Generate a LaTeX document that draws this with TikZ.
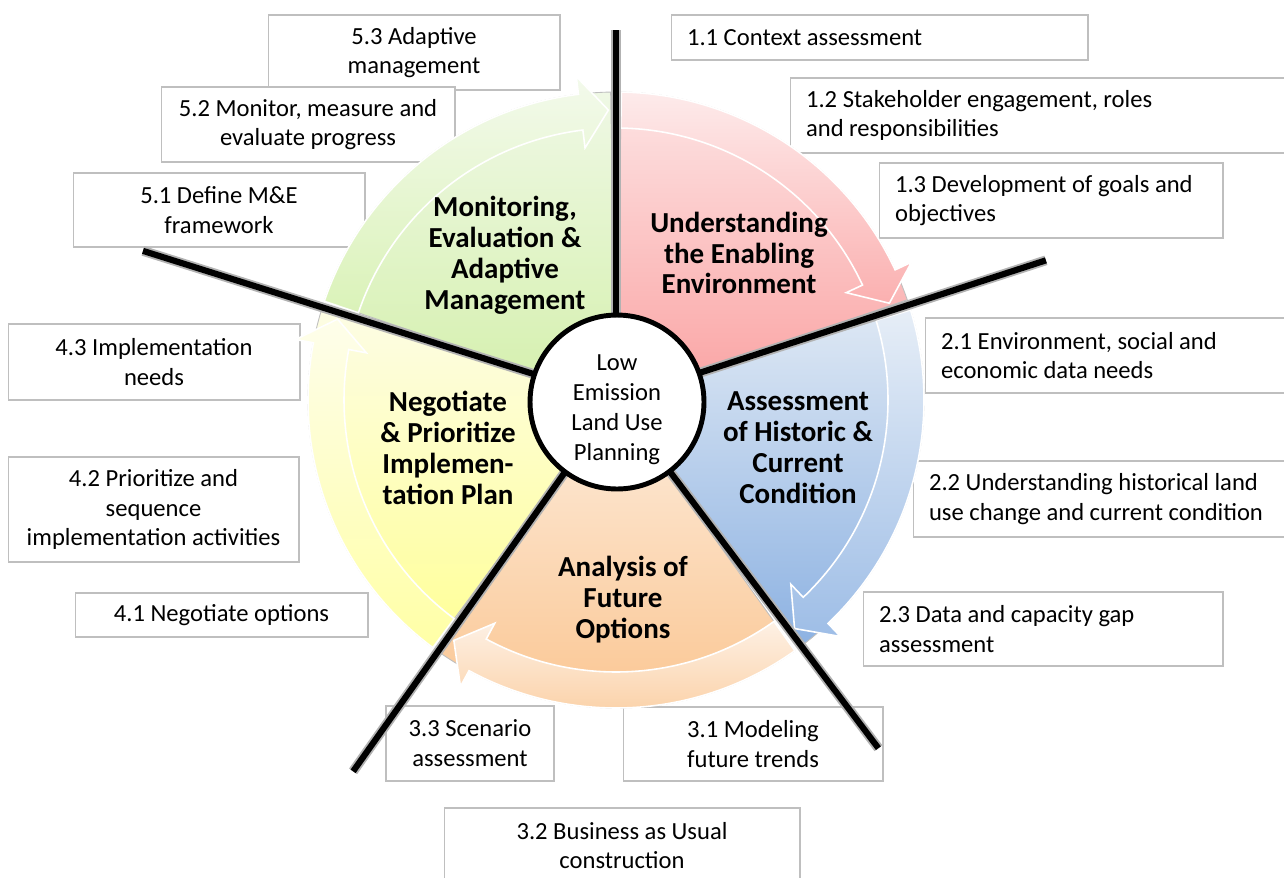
\documentclass[tikz,border=0pt]{standalone}
\usepackage{fontspec}
\setmainfont{Carlito}
\definecolor{grnTop}{RGB}{239,248,229}
\definecolor{grnBot}{RGB}{212,240,172}
\definecolor{redTop}{RGB}{253,228,228}
\definecolor{redBot}{RGB}{250,162,162}
\definecolor{bluTop}{RGB}{222,232,244}
\definecolor{bluBot}{RGB}{141,178,226}
\definecolor{orgTop}{RGB}{253,236,220}
\definecolor{orgBot}{RGB}{250,196,142}
\definecolor{ylwTop}{RGB}{253,253,228}
\definecolor{ylwBot}{RGB}{255,255,150}
\newcommand{\boxfont}{\fontsize{14}{17}\selectfont}
\newcommand{\phasefont}{\fontsize{16.5}{17.6}\selectfont\bfseries}
\begin{document}
\begin{tikzpicture}[x=0.02cm,y=0.02cm,
		subbox/.style={draw=black!25,fill=white,line width=.6pt,inner sep=0pt,font=\boxfont},
		leftbox/.style={subbox,align=flush left,inner xsep=.32cm},
		midbox/.style={subbox,align=flush center},
		phase/.style={align=center,font=\phasefont},
		spoke/.style={line width=3.5pt},
		band/.style={draw=white,line width=.9pt}]
	\useasboundingbox (0,0) rectangle (1284,-877);

	\node[leftbox,minimum width=8.34cm,minimum height=.9cm,text width=7.7cm] (b11) at (879.5,-37.5)
		{1.1 Context assessment};
	\node[leftbox,minimum width=10.2cm,minimum height=1.5cm,text width=9.56cm] (b12) at (1045,-115.5)
		{1.2 Stakeholder engagement, roles\\and responsibilities};
	\node[leftbox,minimum width=6.88cm,minimum height=1.5cm,text width=6.24cm] (b13) at (1051,-200.5)
		{1.3 Development of goals and\\objectives};
	\node[leftbox,minimum width=7.5cm,minimum height=1.5cm,text width=6.86cm] (b21) at (1112.5,-355.5)
		{2.1 Environment, social and\\economic data needs};
	\node[leftbox,minimum width=7.74cm,minimum height=1.52cm,text width=7.1cm] (b22) at (1106.5,-499)
		{2.2 Understanding historical land\\use change and current condition};
	\node[leftbox,minimum width=7.2cm,minimum height=1.48cm,text width=6.56cm] (b23) at (1043,-629)
		{2.3 Data and capacity gap\\assessment};
	\node[midbox,minimum width=5.2cm,minimum height=1.48cm] (b31) at (753,-744)
		{3.1 Modeling\\future trends};
	\node[midbox,minimum width=7.12cm,minimum height=1.5cm] (b32) at (622,-845.5)
		{3.2 Business as Usual\\construction};
	\node[midbox,minimum width=3.36cm,minimum height=1.5cm] (b33) at (470,-743.5)
		{3.3 Scenario\\assessment};
	\node[midbox,minimum width=5.86cm,minimum height=.88cm] (b41) at (221.5,-615)
		{4.1 Negotiate options};
	\node[midbox,minimum width=5.82cm,minimum height=2.1cm] (b42) at (153.5,-509.5)
		{4.2 Prioritize and\\sequence\\implementation activities};
	\node[midbox,minimum width=5.84cm,minimum height=1.52cm] (b43) at (154,-362)
		{4.3 Implementation\\needs};
	\node[midbox,minimum width=5.84cm,minimum height=1.48cm] (b51) at (219,-210)
		{5.1 Define M\&E\\framework};
	\node[midbox,minimum width=5.84cm,minimum height=1.5cm] (b53) at (414,-52.5)
		{5.3 Adaptive\\management};
	\node[midbox,minimum width=5.88cm,minimum height=1.5cm] (b52) at (308,-124.5)
		{5.2 Monitor, measure and\\evaluate progress};

	\coordinate (c) at (616,-400);
	\begin{scope}[shift={(c)}]
		\foreach \a/\b/\tc/\bc in {89/19/redTop/redBot,17/-52.5/bluTop/bluBot,-54.5/-124.5/orgTop/orgBot,
				233.5/163.3/ylwTop/ylwBot,161.3/91/grnTop/grnBot}{
			\shadedraw[top color=\tc,bottom color=\bc,draw=black!25,line width=.5pt]
				(0,0) -- (\a:308) arc[start angle=\a,end angle=\b,radius=308] -- cycle;
			\shadedraw[band,top color=\tc!75!white,bottom color=\bc!85!white]
				(\a:272) -- (\a:308) arc[start angle=\a,end angle=\b+6,radius=308]
				-- ({\b+6}:326) -- ({\b+.5}:290) -- ({\b+6}:254) -- ({\b+6}:272)
				arc[start angle=\b+6,end angle=\a,radius=272] -- cycle;
		}
		\foreach \ang/\len [count=\i] in {90/370,18/452,-53/436,-125.3/455,162.5/496}
			\coordinate (e\i) at (\ang:\len);
	\end{scope}
	\foreach \i in {1,...,5}{
		\draw[spoke,black!30,line width=5.6pt] (c) -- (e\i);
		\draw[spoke] (c) -- (e\i);
	}

	\node[circle,draw,line width=2.8pt,fill=white,minimum size=3.48cm,inner sep=0pt] (hub) at (617,-402) {};
	\node[align=center,font=\boxfont] (hubtext) at ([yshift=-.16cm]hub.center) {Low\\Emission\\Land Use\\Planning};

	\node[phase] (mon) at (505,-255) {Monitoring,\\Evaluation \&\\Adaptive\\Management};
	\node[phase] (und) at (739,-253) {Understanding\\the Enabling\\Environment};
	\node[phase] (ass) at (798,-448) {Assessment\\of Historic \&\\Current\\Condition};
	\node[phase] (ana) at (623,-600) {Analysis of\\Future\\Options};
	\node[phase] (neg) at (448,-448) {Negotiate\\\& Prioritize\\Implemen-\\tation Plan};
\end{tikzpicture}
\end{document}
